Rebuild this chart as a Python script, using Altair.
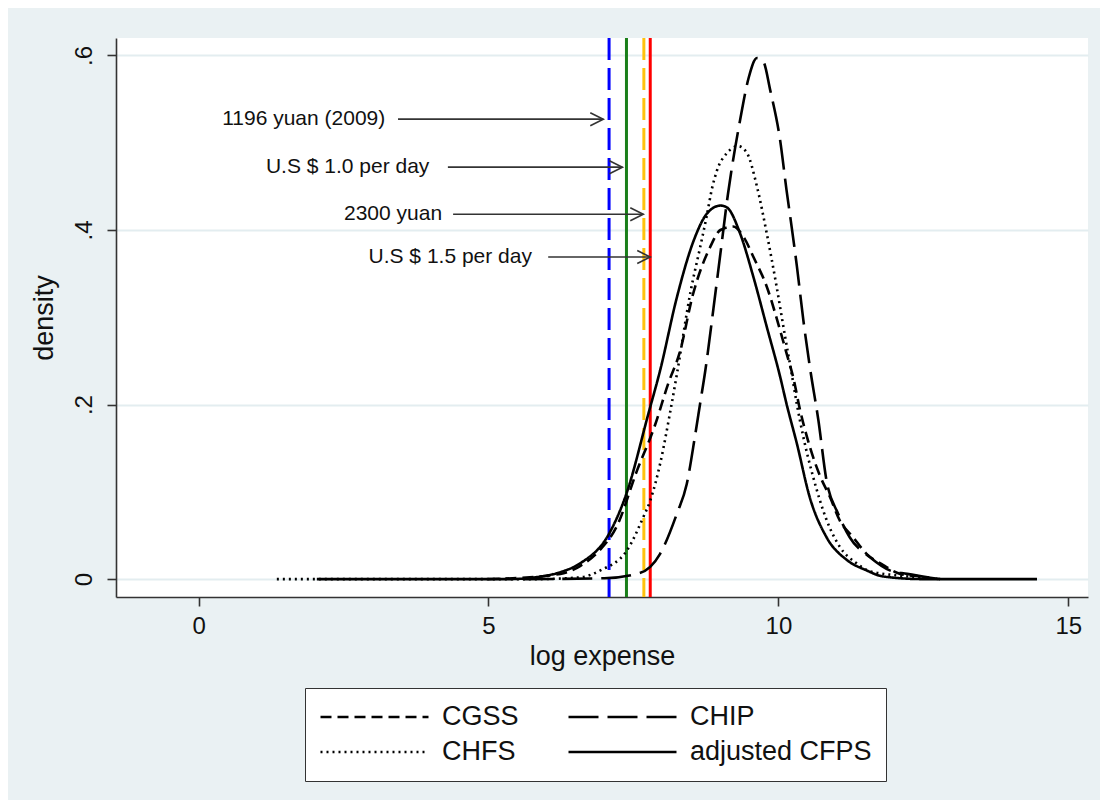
import altair as alt
import pandas as pd

# ---------------- data ----------------
series_order = ["CGSS", "CHIP", "CHFS", "adjusted CFPS"]

cgss_x = [5.0, 5.42, 6.24, 6.58, 6.93, 7.21, 7.56, 7.87, 8.10, 8.30, 8.53, 8.82, 9.0, 9.22, 9.40,
          9.57, 9.80, 10.03, 10.14, 10.26, 10.37, 10.55, 10.72, 10.89, 11.06, 11.29, 11.52, 11.81,
          12.1, 12.44, 12.79]
cgss_y = [0.0, 0.001, 0.006, 0.015, 0.034, 0.06, 0.124, 0.176, 0.224, 0.26, 0.327, 0.38, 0.40, 0.404,
          0.392, 0.369, 0.335, 0.285, 0.259, 0.23, 0.195, 0.15, 0.118, 0.094, 0.067, 0.048, 0.029,
          0.016, 0.006, 0.003, 0.0]

chip_x = [5.6, 7.0, 7.61, 7.96, 8.25, 8.42, 8.56, 8.65, 8.74, 8.88, 9.0, 9.13, 9.34, 9.49, 9.63,
          9.74, 9.86, 10.03, 10.14, 10.23, 10.32, 10.43, 10.55, 10.69, 10.83, 11.03, 11.23, 11.58,
          11.92, 12.22, 12.79]
chip_y = [0.0, 0.001, 0.007, 0.029, 0.075, 0.109, 0.163, 0.201, 0.239, 0.31, 0.373, 0.441, 0.526,
          0.575, 0.597, 0.593, 0.56, 0.503, 0.446, 0.403, 0.358, 0.297, 0.24, 0.182, 0.113, 0.075,
          0.048, 0.025, 0.010, 0.006, 0.0]

chfs_x = [1.35, 2.04, 4.5, 5.8, 6.58, 6.93, 7.39, 7.67, 7.79, 7.96, 8.13, 8.25, 8.49, 8.65, 8.77,
          8.85, 8.94, 9.11, 9.31, 9.46, 9.63, 9.80, 9.97, 10.11, 10.23, 10.32, 10.43, 10.60, 10.83,
          11.06, 11.35, 11.58, 12.1, 12.79]
chfs_y = [0.0, 0.0, 0.0, 0.0, 0.002, 0.010, 0.033, 0.071, 0.09, 0.132, 0.19, 0.235, 0.331, 0.38,
          0.418, 0.446, 0.468, 0.488, 0.496, 0.488, 0.45, 0.396, 0.335, 0.28, 0.235, 0.20, 0.163,
          0.117, 0.068, 0.037, 0.018, 0.009, 0.004, 0.0]

cfps_x = [2.04, 5.37, 5.8, 6.24, 6.58, 7.08, 7.38, 7.76, 7.96, 8.25, 8.54, 8.77, 9.00, 9.11, 9.34,
          9.57, 9.80, 10.03, 10.14, 10.32, 10.54, 10.83, 11.18, 11.52, 11.81, 12.5, 14.46]
cfps_y = [0.0, 0.0, 0.002, 0.008, 0.018, 0.052, 0.098, 0.190, 0.239, 0.323, 0.388, 0.419, 0.428,
          0.426, 0.396, 0.346, 0.289, 0.232, 0.201, 0.155, 0.094, 0.048, 0.022, 0.010, 0.003, 0.0, 0.0]

# poverty lines
vline_x = [7.08, 7.38, 7.68, 7.79]
vline_color = ["#0000ff", "#1a7f1a", "#ffc20e", "#ff0000"]
vline_dashed = [True, False, True, False]

# annotations
ann_label = ["1196 yuan (2009)", "U.S $ 1.0 per day", "2300 yuan", "U.S $ 1.5 per day"]
ann_y = [0.527, 0.472, 0.418, 0.369]
ann_text_x = [3.22, 3.98, 4.20, 5.75]
ann_from_x = [3.44, 4.30, 4.39, 6.03]
ann_to_x = [6.98, 7.31, 7.67, 7.79]

x_ticks = [0, 5, 10, 15]
y_ticks = [0, 0.2, 0.4, 0.6]

# ---------------- tables ----------------
rows = []
for name, xs, ys in [("CGSS", cgss_x, cgss_y), ("CHIP", chip_x, chip_y),
                     ("CHFS", chfs_x, chfs_y), ("adjusted CFPS", cfps_x, cfps_y)]:
    for a, b in zip(xs, ys):
        rows.append({"series": name, "x": a, "y": b})
curves = pd.DataFrame(rows)

vlines = pd.DataFrame({"x": vline_x, "color": vline_color, "dashed": vline_dashed})
ann = pd.DataFrame({"label": ann_label, "y": ann_y, "tx": ann_text_x,
                    "x0": ann_from_x, "x1": ann_to_x})

FONT = "Liberation Sans"
xscale = alt.Scale(domain=[-1.424, 15.34], nice=False, zero=False)
yscale = alt.Scale(domain=[-0.0205, 0.62], nice=False, zero=False)

xaxis = alt.Axis(values=x_ticks, title="log expense", grid=False, format="d",
                 labelFontSize=24, titleFontSize=27, labelPadding=8, titlePadding=5)
yaxis = alt.Axis(values=y_ticks, title="density", grid=True, labelAngle=270,
                 labelAlign="center", labelBaseline="bottom",
                 labelExpr="datum.value == 0 ? '0' : replace(format(datum.value, '.1f'), '0.', '.')",
                 labelFontSize=24, titleFontSize=27, labelPadding=11, titlePadding=14)

base_x = alt.X("x:Q", scale=xscale, axis=xaxis)

lines = alt.Chart(curves).mark_line(color="black", strokeWidth=2.6, interpolate="monotone").encode(
    x=base_x,
    y=alt.Y("y:Q", scale=yscale, axis=yaxis),
    strokeDash=alt.StrokeDash(
        "series:N",
        scale=alt.Scale(domain=series_order,
                        range=[[11, 6], [30, 9], [2, 4], [1, 0]]),
        legend=alt.Legend(
            orient="none", legendX=189, legendY=650, columns=2, direction="horizontal",
            title=None, symbolType="stroke", symbolSize=11664, symbolStrokeWidth=2.6,
            symbolStrokeColor="black", labelFont=FONT, labelFontSize=27, labelColor="#111111",
            labelOffset=12, columnPadding=48, rowPadding=5, clipHeight=30, padding=14,
            strokeColor="#333333", fillColor="white", symbolOffset=0, labelLimit=0,
        ),
    ),
    detail="series:N",
)

dashed_rules = alt.Chart(vlines[vlines["dashed"]]).mark_rule(strokeWidth=3, strokeDash=[22, 8]).encode(
    x=alt.X("x:Q", scale=xscale), color=alt.Color("color:N", scale=None))
solid_rules = alt.Chart(vlines[~vlines["dashed"]]).mark_rule(strokeWidth=3).encode(
    x=alt.X("x:Q", scale=xscale), color=alt.Color("color:N", scale=None))

arrows = alt.Chart(ann).mark_rule(color="#333333", strokeWidth=1.6).encode(
    x=alt.X("x0:Q", scale=xscale), x2="x1:Q", y=alt.Y("y:Q", scale=yscale))
heads = alt.Chart(ann).mark_point(shape="M-1,-0.5L0,0L-1,0.5", size=676, filled=False,
                                  color="#333333", strokeWidth=1.6, opacity=1).encode(
    x=alt.X("x1:Q", scale=xscale), y=alt.Y("y:Q", scale=yscale))
texts = alt.Chart(ann).mark_text(align="right", baseline="middle", font=FONT, fontSize=21,
                                 color="#111111").encode(
    x=alt.X("tx:Q", scale=xscale), y=alt.Y("y:Q", scale=yscale), text="label:N")

chart = alt.layer(dashed_rules, solid_rules, lines, arrows, heads, texts).properties(
    width=972, height=559,
    padding={"left": 108, "top": 30, "right": 12, "bottom": 203},
    autosize=alt.AutoSizeParams(type="none"),
    background="#eaf1f3",
).configure_view(
    fill="white", stroke=None
).configure_axis(
    labelFont=FONT, titleFont=FONT, labelColor="#111111", titleColor="#111111",
    titleFontWeight="normal", domainColor="#333333", domainWidth=1.6,
    tickColor="#333333", tickWidth=1.6, tickSize=9,
    gridColor="#e3edf0", gridWidth=2,
)

chart.save("out.html", embed_options={"renderer": "svg", "actions": False})
